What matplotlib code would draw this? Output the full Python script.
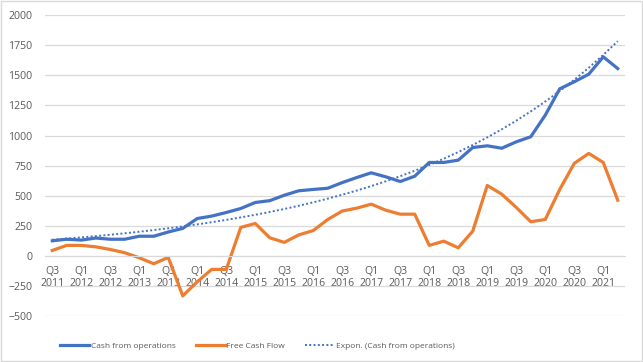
import numpy as np
import matplotlib.pyplot as plt
from matplotlib.patches import Rectangle

# quarters Q3 2011 .. Q2 2021
years = list(range(2011, 2022))
quarters = []
for y in years:
    for q in (1, 2, 3, 4):
        quarters.append(f"Q{q}\n{y}")
quarters = quarters[2:42]

cash_ops = [127, 140, 133, 150, 140, 140, 165, 165, 200, 230,
            312, 332, 362, 395, 445, 460, 505, 542, 553, 563,
            610, 652, 691, 658, 619, 663, 777, 777, 796, 901,
            915, 895, 948, 990, 1169, 1388, 1446, 1509, 1653, 1556]

free_cf = [47, 89, 89, 77, 55, 28, -14, -63, -11, -330,
           -213, -110, -110, 238, 271, 152, 114, 176, 212, 304,
           374, 398, 431, 381, 348, 348, 89, 124, 69, 207,
           586, 514, 404, 285, 304, 553, 769, 852, 777, 464]

x = np.arange(len(cash_ops))

# Excel-style exponential trendline fitted to cash from operations
b, a = np.polyfit(x + 1, np.log(cash_ops), 1)
trend = np.exp(a) * np.exp(b * (x + 1))

blue = '#4472C4'
orange = '#ED7D31'
grid_c = '#D9D9D9'
text_c = '#595959'

plt.rcParams['font.family'] = ['Open Sans', 'DejaVu Sans']

fig = plt.figure(figsize=(6.43, 3.62), dpi=100)
ax = fig.add_axes([0.070, 0.126, 0.902, 0.8325])

ax.plot(x, cash_ops, color=blue, lw=2.3, label='Cash from operations', solid_joinstyle='round')
ax.plot(x, free_cf, color=orange, lw=2.3, label='Free Cash Flow', solid_joinstyle='round')
ax.plot(x, trend, color=blue, lw=1.4, ls=(0, (1, 1.2)), label='Expon. (Cash from operations)')

ax.set_xlim(-0.5, len(x) - 0.5)
ax.set_ylim(-500, 2000)
ax.set_yticks(np.arange(-500, 2001, 250))
ax.yaxis.grid(True, color=grid_c, lw=0.9)
ax.set_axisbelow(True)

ax.set_xticks(x[::2])
ax.set_xticklabels(quarters[::2], linespacing=1.45)
ax.spines['bottom'].set_position(('data', 0))
ax.spines['bottom'].set_color(grid_c)
for s in ('top', 'right', 'left'):
    ax.spines[s].set_visible(False)
ax.tick_params(axis='both', length=0, colors=text_c, labelsize=7.6)
ax.tick_params(axis='x', pad=7)
ax.tick_params(axis='y', pad=9)

fig.legend(loc='lower left', bbox_to_anchor=(0.088, 0.025), ncol=3, frameon=False,
           fontsize=6.0, handlelength=3.5, columnspacing=2.4, handletextpad=0.2,
           borderaxespad=0, labelcolor=text_c)

fig.patches.append(Rectangle((0.001, 0.002), 0.997, 0.995, transform=fig.transFigure,
                             fill=False, edgecolor=grid_c, lw=1))

fig.savefig('out.png', dpi=100)
